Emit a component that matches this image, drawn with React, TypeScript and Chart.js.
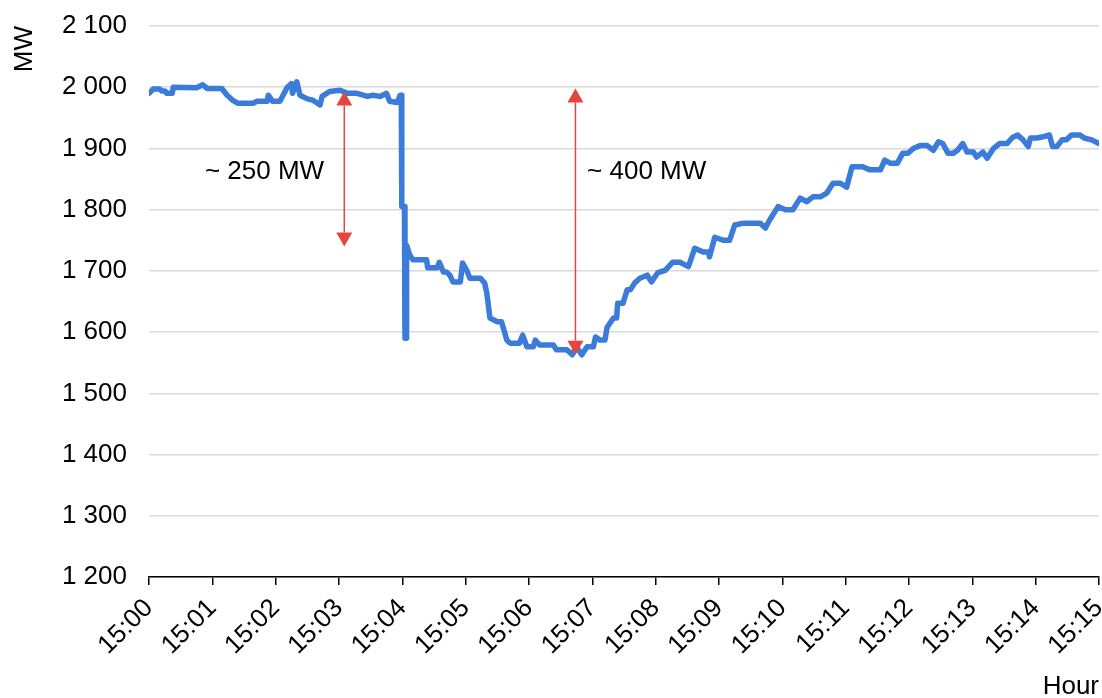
import React, { useEffect, useRef } from "react";
import { Chart, registerables } from "chart.js";

Chart.register(...registerables);

// seconds after 15:00
const timeSec = [
  0, 4, 10, 12, 15, 17, 22, 23, 45, 51, 55, 69, 74, 79, 84, 99, 102, 112, 113, 117, 124, 131, 135, 136, 140, 143,
  150, 155, 162, 164, 171, 181, 188, 197, 207, 212, 219, 225, 228, 235, 238, 239, 239.5, 242, 242.5, 243.5, 244,
  247, 250, 263, 264, 273, 275, 279, 282, 285, 288, 295, 297, 301, 304, 314, 318, 320, 323, 330, 334, 339, 342,
  351, 354, 358, 364, 366, 370, 383, 386, 396, 401, 405, 410, 415, 421, 423, 427, 432, 434, 440, 443, 444, 449,
  453, 456, 460, 465, 472, 476, 482, 489, 496, 503, 511, 517, 525, 530, 531, 536, 544, 550, 555, 563, 579, 584,
  588, 596, 603, 610, 617, 623, 629, 636, 642, 648, 655, 661, 666, 676, 683, 693, 697, 702, 709, 714, 719, 724,
  731, 737, 743, 748, 752, 757, 762, 766, 771, 775, 781, 784, 790, 794, 800, 806, 813, 818, 823, 828, 833, 835,
  841, 847, 853, 856, 860, 865, 869, 874, 882, 886, 893, 900,
];
const powerMW = [
  1990, 1997, 1997, 1994, 1994, 1990, 1990, 2000, 1999, 2004, 1998, 1998, 1987, 1979, 1974, 1974, 1977, 1977, 1987,
  1977, 1977, 2000, 2006, 1990, 2009, 1987, 1981, 1979, 1971, 1985, 1993, 1995, 1990, 1990, 1985, 1987, 1985, 1990,
  1977, 1975, 1987, 1987, 1805, 1805, 1590, 1590, 1742, 1726, 1718, 1718, 1705, 1705, 1714, 1698, 1698, 1693, 1682,
  1682, 1713, 1701, 1688, 1688, 1680, 1664, 1623, 1617, 1617, 1587, 1582, 1582, 1595, 1576, 1576, 1587, 1579, 1579,
  1571, 1571, 1563, 1576, 1563, 1576, 1576, 1592, 1587, 1587, 1608, 1623, 1623, 1647, 1647, 1669, 1669, 1680, 1688,
  1693, 1682, 1697, 1701, 1714, 1714, 1707, 1737, 1731, 1731, 1723, 1755, 1750, 1750, 1775, 1778, 1778, 1770, 1783,
  1805, 1800, 1800, 1819, 1813, 1821, 1821, 1827, 1843, 1843, 1837, 1870, 1870, 1865, 1865, 1881, 1876, 1876, 1892,
  1892, 1900, 1905, 1905, 1897, 1911, 1908, 1892, 1892, 1897, 1908, 1894, 1894, 1886, 1894, 1884, 1900, 1908, 1908,
  1918, 1922, 1914, 1903, 1917, 1917, 1919, 1922, 1903, 1903, 1914, 1914, 1922, 1922, 1917, 1914, 1908,
];

const xTickLabels = [
  "15:00", "15:01", "15:02", "15:03", "15:04", "15:05", "15:06", "15:07",
  "15:08", "15:09", "15:10", "15:11", "15:12", "15:13", "15:14", "15:15",
];
const yMin = 1200;
const yMax = 2100;
const yStep = 100;

// annotations: double-headed arrows and their labels
const arrowSec = [185, 404];
const arrowTopMW = [1993, 1998];
const arrowBottomMW = [1740, 1563];
const annotationText = ["~ 250 MW", "~ 400 MW"];
const annotationSec = [53, 415];
const annotationMW = [1862, 1862];

const FONT = "'Liberation Sans', Arial, Helvetica, sans-serif";
const LINE_COLOR = "#3b7bd9";
const ARROW_COLOR = "#e4463f";

const annotationPlugin = {
  id: "arrowsAnnotations",
  afterDatasetsDraw(chart: any) {
    const { ctx, scales } = chart;
    const xs = scales.x;
    const ys = scales.y;
    ctx.save();
    for (let i = 0; i < arrowSec.length; i++) {
      const x = xs.getPixelForValue(arrowSec[i]);
      const yTop = ys.getPixelForValue(arrowTopMW[i]);
      const yBot = ys.getPixelForValue(arrowBottomMW[i]);
      const headH = 14;
      const headW = 8;
      ctx.strokeStyle = ARROW_COLOR;
      ctx.fillStyle = ARROW_COLOR;
      ctx.lineWidth = 1.5;
      ctx.beginPath();
      ctx.moveTo(x, yTop + headH);
      ctx.lineTo(x, yBot - headH);
      ctx.stroke();
      ctx.beginPath();
      ctx.moveTo(x, yTop);
      ctx.lineTo(x - headW, yTop + headH);
      ctx.lineTo(x + headW, yTop + headH);
      ctx.closePath();
      ctx.fill();
      ctx.beginPath();
      ctx.moveTo(x, yBot);
      ctx.lineTo(x - headW, yBot - headH);
      ctx.lineTo(x + headW, yBot - headH);
      ctx.closePath();
      ctx.fill();
    }
    ctx.fillStyle = "#000";
    ctx.font = `26px ${FONT}`;
    ctx.textAlign = "left";
    ctx.textBaseline = "middle";
    for (let i = 0; i < annotationText.length; i++) {
      ctx.fillText(
        annotationText[i],
        xs.getPixelForValue(annotationSec[i]),
        ys.getPixelForValue(annotationMW[i])
      );
    }
    ctx.restore();
  },
};

export default function App() {
  const ref = useRef<HTMLCanvasElement | null>(null);
  useEffect(() => {
    if (!ref.current) return;
    const data = timeSec.map((t, i) => ({ x: t, y: powerMW[i] }));
    const chart = new Chart(ref.current, {
      type: "line",
      data: {
        datasets: [
          {
            data,
            borderColor: LINE_COLOR,
            borderWidth: 5.5,
            pointRadius: 0,
            tension: 0,
            borderJoinStyle: "round",
            borderCapStyle: "round",
            fill: false,
          },
        ],
      },
      options: {
        responsive: false,
        animation: false,
        events: [],
        layout: { padding: { top: 26, right: 3, left: 0, bottom: 0 } },
        plugins: {
          legend: { display: false },
          tooltip: { enabled: false },
        },
        scales: {
          x: {
            type: "linear",
            min: 0,
            max: 900,
            afterFit: (s: any) => {
              s.height = 121;
              s.paddingLeft = 0;
              s.paddingRight = 0;
            },
            afterBuildTicks: (s: any) => {
              s.ticks = xTickLabels.map((_, i) => ({ value: i * 60 }));
            },
            ticks: {
              minRotation: 45,
              maxRotation: 45,
              autoSkip: false,
              color: "#000",
              padding: 8,
              font: { family: FONT, size: 26 },
              callback: (v: any) => xTickLabels[Math.round(Number(v) / 60)] ?? "",
            },
            grid: {
              drawOnChartArea: false,
              drawTicks: true,
              tickLength: 8,
              color: "#000",
              lineWidth: 1.5,
            },
            border: { display: true, color: "#000", width: 1.5 },
            title: {
              display: true,
              text: "Hour",
              align: "end",
              color: "#000",
              font: { family: FONT, size: 26 },
              padding: { top: 0, bottom: -4 },
            },
          },
          y: {
            type: "linear",
            min: yMin,
            max: yMax,
            afterFit: (s: any) => {
              s.width = 149;
              s.paddingTop = 0;
              s.paddingBottom = 0;
            },
            ticks: {
              stepSize: yStep,
              color: "#000",
              padding: 22,
              font: { family: FONT, size: 26 },
              callback: (v: any) => {
                const n = Number(v);
                const th = Math.floor(n / 1000);
                const rest = String(n % 1000).padStart(3, "0");
                return th > 0 ? `${th} ${rest}` : String(n);
              },
            },
            grid: {
              drawTicks: false,
              color: "#d9d9d9",
              lineWidth: 1.5,
            },
            border: { display: false },
            title: {
              display: true,
              text: "MW",
              align: "end",
              color: "#000",
              font: { family: FONT, size: 26 },
              padding: { top: 9, bottom: 0 },
            },
          },
        },
      },
      plugins: [annotationPlugin],
    } as any);
    return () => chart.destroy();
  }, []);
  return (
    <div style={{ position: "fixed", left: 0, top: 0, width: 1102, height: 698, background: "#fff" }}>
      <canvas ref={ref} width={1102} height={698} style={{ display: "block" }} />
    </div>
  );
}
